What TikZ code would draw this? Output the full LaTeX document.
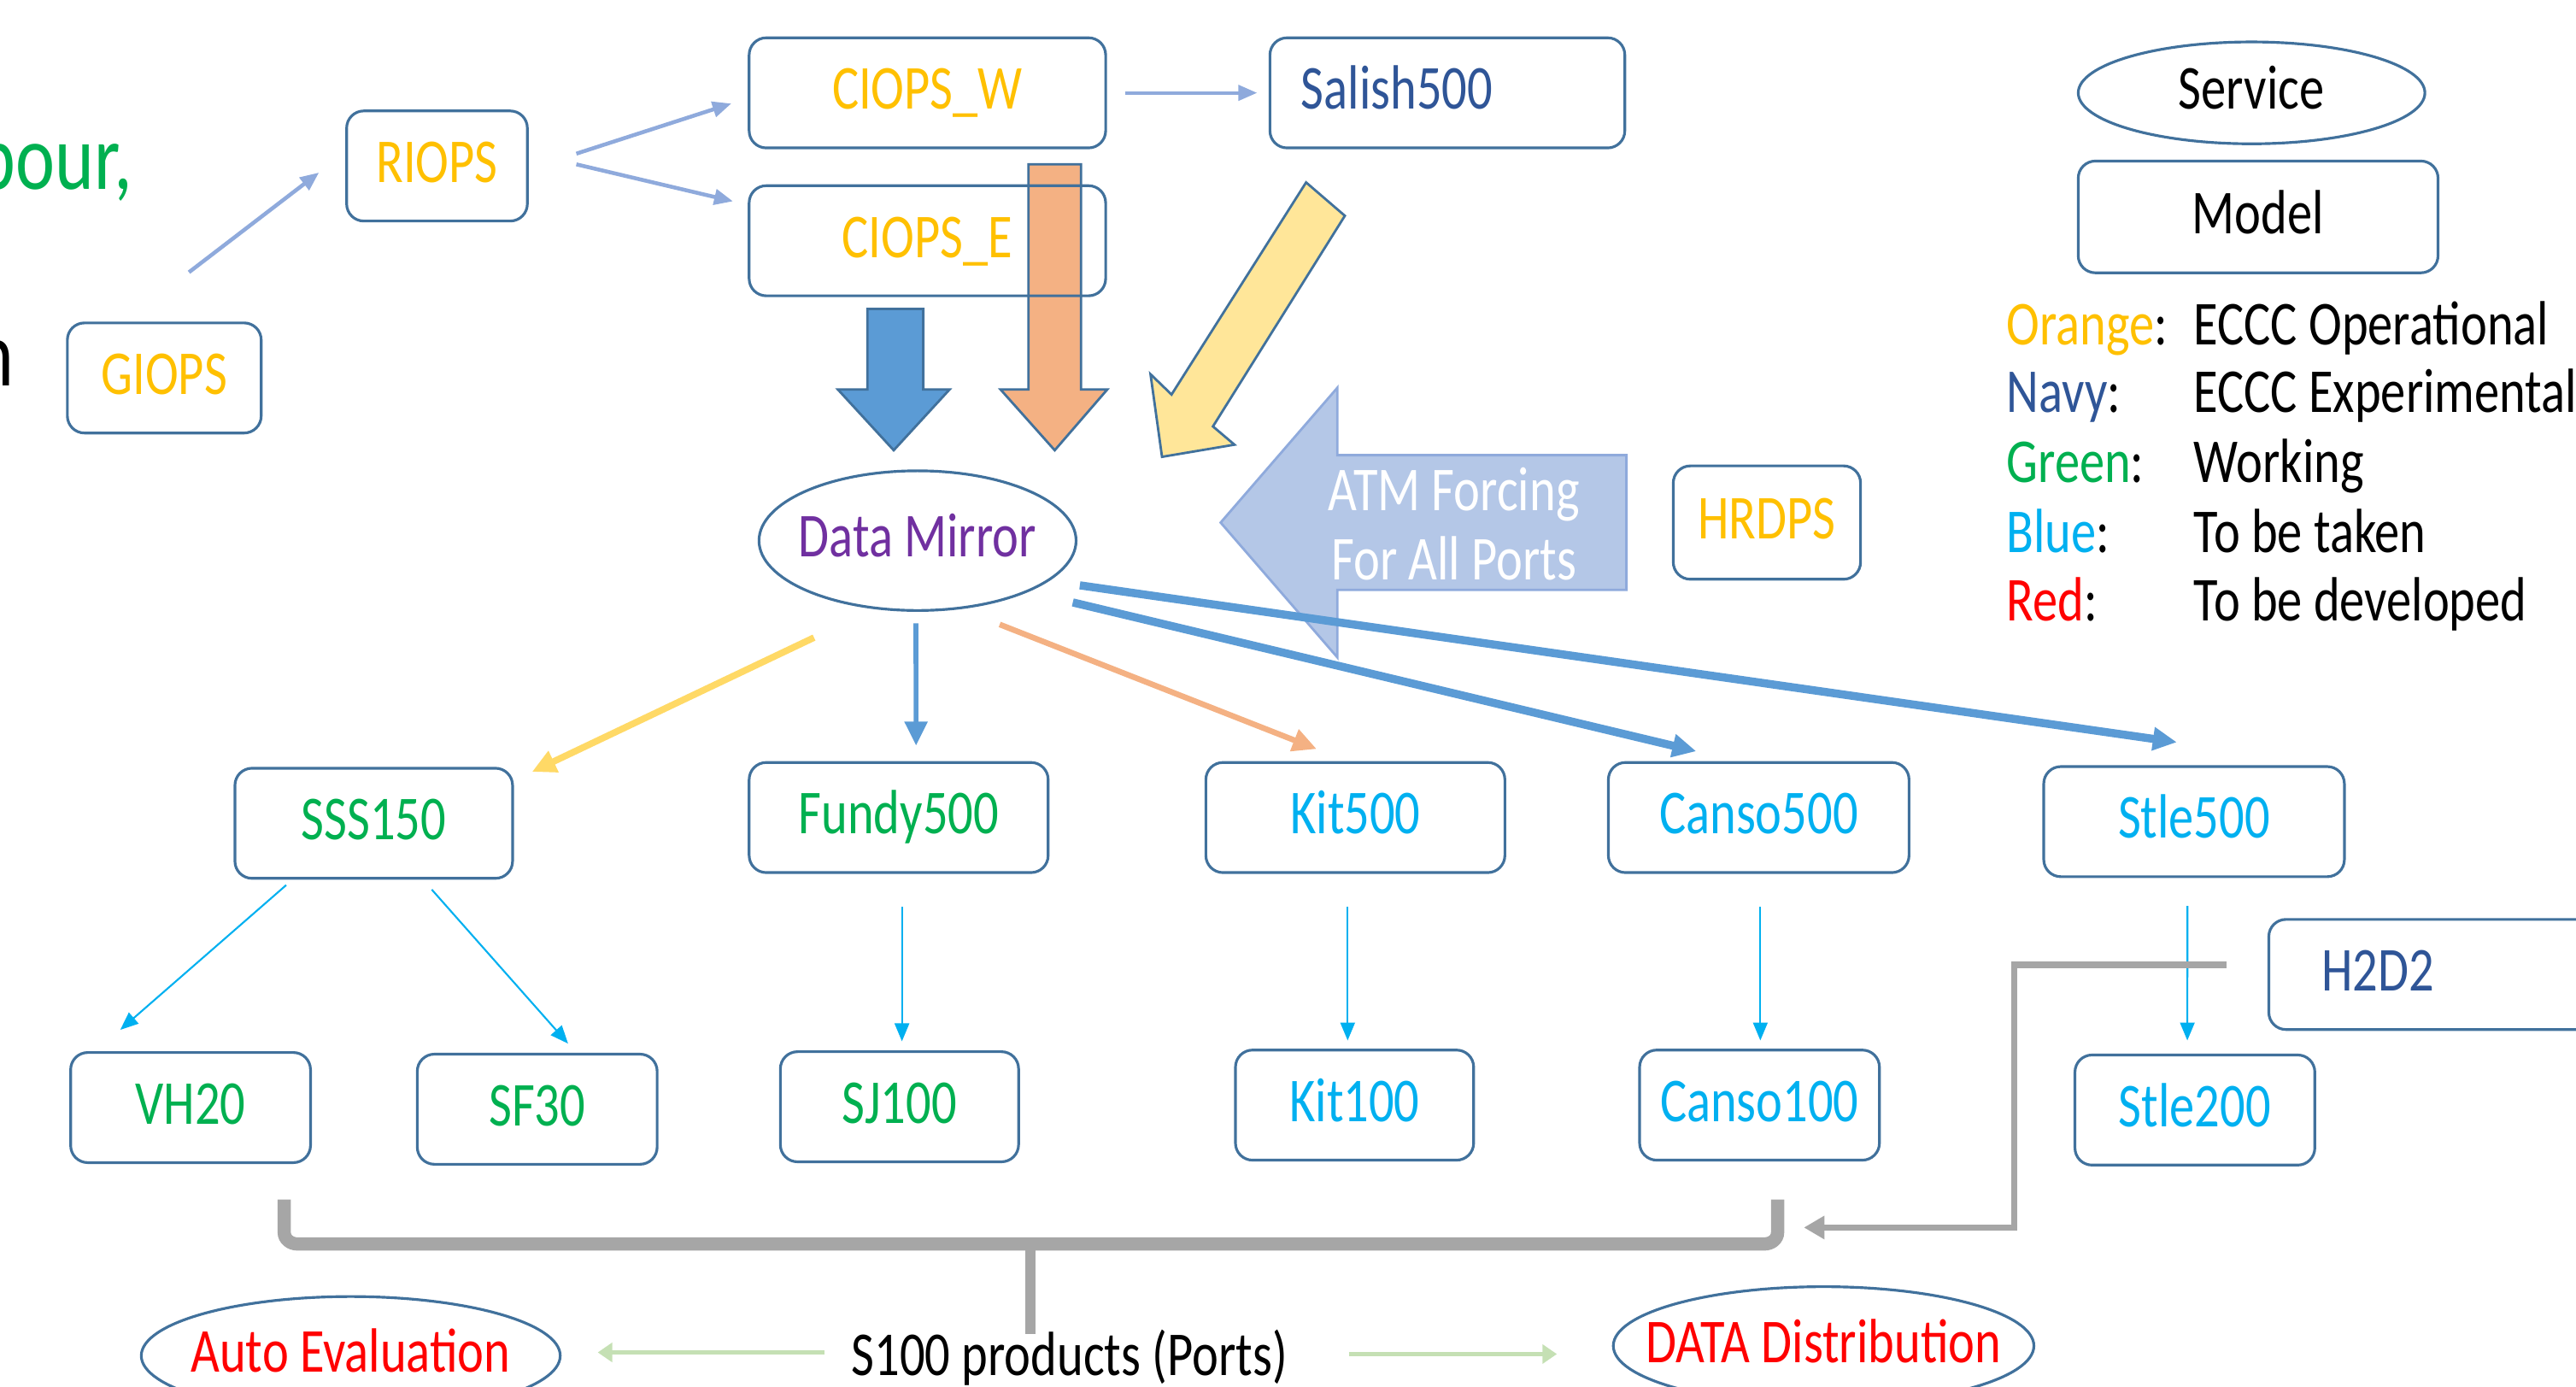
\documentclass[tikz,border=0pt]{standalone}
\usepackage{fontspec}
\setmainfont{Carlito}[FakeStretch=0.8]
\usepackage{xcolor}
\usepackage{tikz}
\usetikzlibrary{arrows.meta,shapes.geometric,backgrounds}

\definecolor{boxline}{HTML}{41719C}
\definecolor{opsorange}{HTML}{FFC000}
\definecolor{expnavy}{HTML}{2F5597}
\definecolor{workgreen}{HTML}{00B050}
\definecolor{takeblue}{HTML}{00B0F0}
\definecolor{devred}{HTML}{FF0000}
\definecolor{mirrorpurple}{HTML}{7030A0}
\definecolor{paleblue}{HTML}{8FAADC}
\definecolor{atmfill}{HTML}{B4C7E7}
\definecolor{midblue}{HTML}{5B9BD5}
\definecolor{peach}{HTML}{F4B183}
\definecolor{sand}{HTML}{FFE699}
\definecolor{gold}{HTML}{FFD966}
\definecolor{bracegrey}{HTML}{A6A6A6}
\definecolor{palegreen}{HTML}{C5E0B4}

\newcommand\spx{0.0192283cm}

\begin{document}
\begin{tikzpicture}[x=0.0192283cm, y=-0.0192283cm,
    every node/.style={font=\fontsize{20.8}{24}\selectfont},
    modelbox/.style={draw=boxline, line width=0.9pt, rounded corners=0.2cm, minimum height=67*\spx, inner sep=0pt, text height=15pt, text depth=4pt},
    servicebox/.style={draw=boxline, line width=0.9pt, ellipse, inner sep=0pt, text height=15pt, text depth=4pt},
    legtext/.style={anchor=base west, inner sep=0pt},
    feed/.style={paleblue, line width=1.3pt, -{Triangle[length=0.22cm,width=0.18cm]}},
    portline/.style={takeblue, line width=0.6pt, -{Triangle[length=0.21cm,width=0.17cm]}},
    mirrorline/.style={line width=#1, -{Triangle[length=0.28cm,width=0.26cm]}},
    outline/.style={palegreen, line width=1.6pt, -{Triangle[length=0.17cm,width=0.22cm]}},
    blockarrow/.style={draw=boxline, line width=0.8pt, line join=miter}]

    \useasboundingbox (0,0) rectangle (1568,844);

    % cut-off text at the left edge
    \node[anchor=base east, inner sep=0pt, text=workgreen, font=\fontsize{31}{36}\selectfont] (harbour) at (81,115) {bour,};
    \node[anchor=base east, inner sep=0pt, font=\fontsize{31}{36}\selectfont] (cutn) at (9,235) {n};

    % models
    \node[modelbox, minimum width=118*\spx, text=opsorange] (giops) at (100,230) {GIOPS};
    \node[modelbox, minimum width=110*\spx, text=opsorange] (riops) at (266,101) {RIOPS};
    \node[modelbox, minimum width=217*\spx, text=opsorange] (ciopsw) at (564.5,56.5) {CIOPS\_W};
    \node[modelbox, minimum width=217*\spx, text=opsorange] (ciopse) at (564.5,146.5) {CIOPS\_E};
    \node[modelbox, minimum width=216*\spx, text=expnavy, text width=178*\spx, align=left] (salish) at (881,56.5) {Salish500};
    \node[modelbox, minimum width=114*\spx, minimum height=69*\spx, text=opsorange] (hrdps) at (1075.5,318) {HRDPS};
    \node[servicebox, minimum width=193*\spx, minimum height=85*\spx, text=mirrorpurple] (mirror) at (558.5,329) {\makebox[0pt]{Data Mirror}};

    \node[modelbox, minimum width=169*\spx, text=workgreen] (sss) at (227.5,501) {SSS150};
    \node[modelbox, minimum width=182*\spx, text=workgreen] (fundy) at (547,497.5) {Fundy500};
    \node[modelbox, minimum width=182*\spx, text=takeblue] (kit) at (825,497.5) {Kit500};
    \node[modelbox, minimum width=183*\spx, text=takeblue] (canso) at (1070.5,497.5) {Canso500};
    \node[modelbox, minimum width=183*\spx, text=takeblue] (stle) at (1335.5,500) {Stle500};

    \node[modelbox, minimum width=146*\spx, text=workgreen] (vh) at (116,674) {VH20};
    \node[modelbox, minimum width=146*\spx, text=workgreen] (sf) at (327,675) {SF30};
    \node[modelbox, minimum width=145*\spx, text=workgreen] (sj) at (547.5,673.5) {SJ100};
    \node[modelbox, minimum width=145*\spx, text=takeblue] (kitc) at (824.5,672.5) {Kit100};
    \node[modelbox, minimum width=146*\spx, text=takeblue] (cansoc) at (1071,672.5) {Canso100};
    \node[modelbox, minimum width=146*\spx, text=takeblue] (stlec) at (1336,675.5) {Stle200};
    \node[modelbox, minimum width=240*\spx, text=expnavy, text width=176*\spx, align=left] (h2d2) at (1501,593) {H2D2};

    % legend
    \node[servicebox, minimum width=211*\spx, minimum height=62*\spx] (legservice) at (1370.5,56.5) {\makebox[0pt]{Service}};
    \node[modelbox, minimum width=219*\spx, minimum height=68*\spx] (legmodel) at (1374.5,132) {Model};
    \node[legtext] (lgo) at (1221,209.6) {\textcolor{opsorange}{Orange}:};
    \node[legtext] (lgot) at (1335,209.6) {ECCC Operational};
    \node[legtext] (lgn) at (1221,250.7) {\textcolor{expnavy}{Navy}:};
    \node[legtext] (lgnt) at (1335,250.7) {ECCC Experimental};
    \node[legtext] (lgg) at (1221,293.5) {\textcolor{workgreen}{Green}:};
    \node[legtext] (lggt) at (1335,293.5) {Working};
    \node[legtext] (lgb) at (1221,336) {\textcolor{takeblue}{Blue}:};
    \node[legtext] (lgbt) at (1335,336) {To be taken};
    \node[legtext] (lgr) at (1221,378) {\textcolor{devred}{Red}:};
    \node[legtext] (lgrt) at (1335,378) {To be developed};

    % products and services
    \node[inner sep=0pt] (s100) at (651,826) {S100 products (Ports)};
    \node[servicebox, minimum width=255*\spx, minimum height=72*\spx, text=devred] (autoev) at (213.5,825) {\makebox[0pt]{Auto Evaluation}};
    \node[servicebox, minimum width=256*\spx, minimum height=72*\spx, text=devred] (datadist) at (1110,819) {\makebox[0pt]{DATA Distribution}};
    \node[text=white, align=center, font=\fontsize{20.8}{23}\selectfont] (atm) at (885,319) {ATM Forcing\\For All Ports};

    % block arrows
    \begin{pgfonlayer}{background}
      \fill[atmfill, draw=paleblue, line width=0.8pt] (743,318) -- (814,236) -- (814,277) -- (990,277) -- (990,359) -- (814,359) -- (814,400) -- cycle;
      \filldraw[blockarrow, fill=midblue] (528,188) -- (562,188) -- (562,237) -- (578,237) -- (544,274) -- (510,237) -- (528,237) -- cycle;
      \filldraw[blockarrow, fill=peach] (626,100) -- (658,100) -- (658,237) -- (674,237) -- (642,274) -- (609,237) -- (626,237) -- cycle;
      \filldraw[blockarrow, fill=sand] (795,111) -- (818.6,131.3) -- (738.3,259.5) -- (751.4,270.6) -- (707.3,278) -- (700.3,227.7) -- (713.1,240.1) -- cycle;
    \end{pgfonlayer}

    % connectors
    \draw[feed] ([shift={(15,-30)}]giops.north) -- ([shift={(-16,4)}]riops.west);
    \draw[feed] ([shift={(29,-7.5)}]riops.east) -- ([shift={(-10,6.5)}]ciopsw.west);
    \draw[feed] ([shift={(29,-1)}]riops.east) -- ([shift={(-9,-24)}]ciopse.west);
    \draw[feed, line width=1.1pt] ([shift={(11,0)}]ciopsw.east) -- ([shift={(-7,0)}]salish.west);

    \draw[mirrorline=2.2pt, gold] ([shift={(-63,59)}]mirror.center) -- ([shift={(11,3)}]sss.north east);
    \draw[mirrorline=1.6pt, midblue] ([shift={(-1,7)}]mirror.south) -- ([shift={(10.6,-9.5)}]fundy.north);
    \draw[mirrorline=1.9pt, peach] ([shift={(50,51)}]mirror.center) -- ([shift={(-23.6,-7.4)}]kit.north);
    \draw[mirrorline=2.7pt, midblue] ([shift={(94.5,37.6)}]mirror.center) -- ([shift={(-38,-6)}]canso.north);
    \draw[mirrorline=2.7pt, midblue] ([shift={(98.8,27.2)}]mirror.center) -- ([shift={(-10.5,-14)}]stle.north);

    \draw[portline] ([shift={(-53.3,3.3)}]sss.south) -- ([shift={(-42.8,-13)}]vh.north);
    \draw[portline] ([shift={(35.3,6)}]sss.south) -- ([shift={(18.8,-5.6)}]sf.north);
    \draw[portline] ([shift={(2,20)}]fundy.south) -- ([shift={(1.5,-5.5)}]sj.north);
    \draw[portline] ([shift={(-4.7,20)}]kit.south) -- ([shift={(-4.2,-5)}]kitc.north);
    \draw[portline] ([shift={(1,20)}]canso.south) -- ([shift={(0.5,-5)}]cansoc.north);
    \draw[portline] ([shift={(-4,17)}]stle.south) -- ([shift={(-4.6,-8)}]stlec.north);

    % grey bracket over the ports
    \draw[bracegrey, line width=4.4pt] (173,730) -- (173,750) to[out=-90,in=180] (181,757) -- (1074,757) to[out=0,in=-90] (1082,750) -- (1082,730);
    \draw[bracegrey, line width=3.4pt] (627,757) -- (627,812);
    \coordinate (brkin) at (1098,747);
    \draw[bracegrey, line width=2.2pt, line join=miter, -{Triangle[length=0.24cm,width=0.26cm]}] ([shift={(-25,-6)}]h2d2.west) -| ([shift={(128,0)}]brkin) -- (brkin);

    \draw[outline] ([shift={(-16,-3)}]s100.west) -- ([shift={(22,-2)}]autoev.east);
    \draw[outline] ([shift={(37,-2)}]s100.east) -- ([shift={(-33.5,5)}]datadist.west);
\end{tikzpicture}
\end{document}
